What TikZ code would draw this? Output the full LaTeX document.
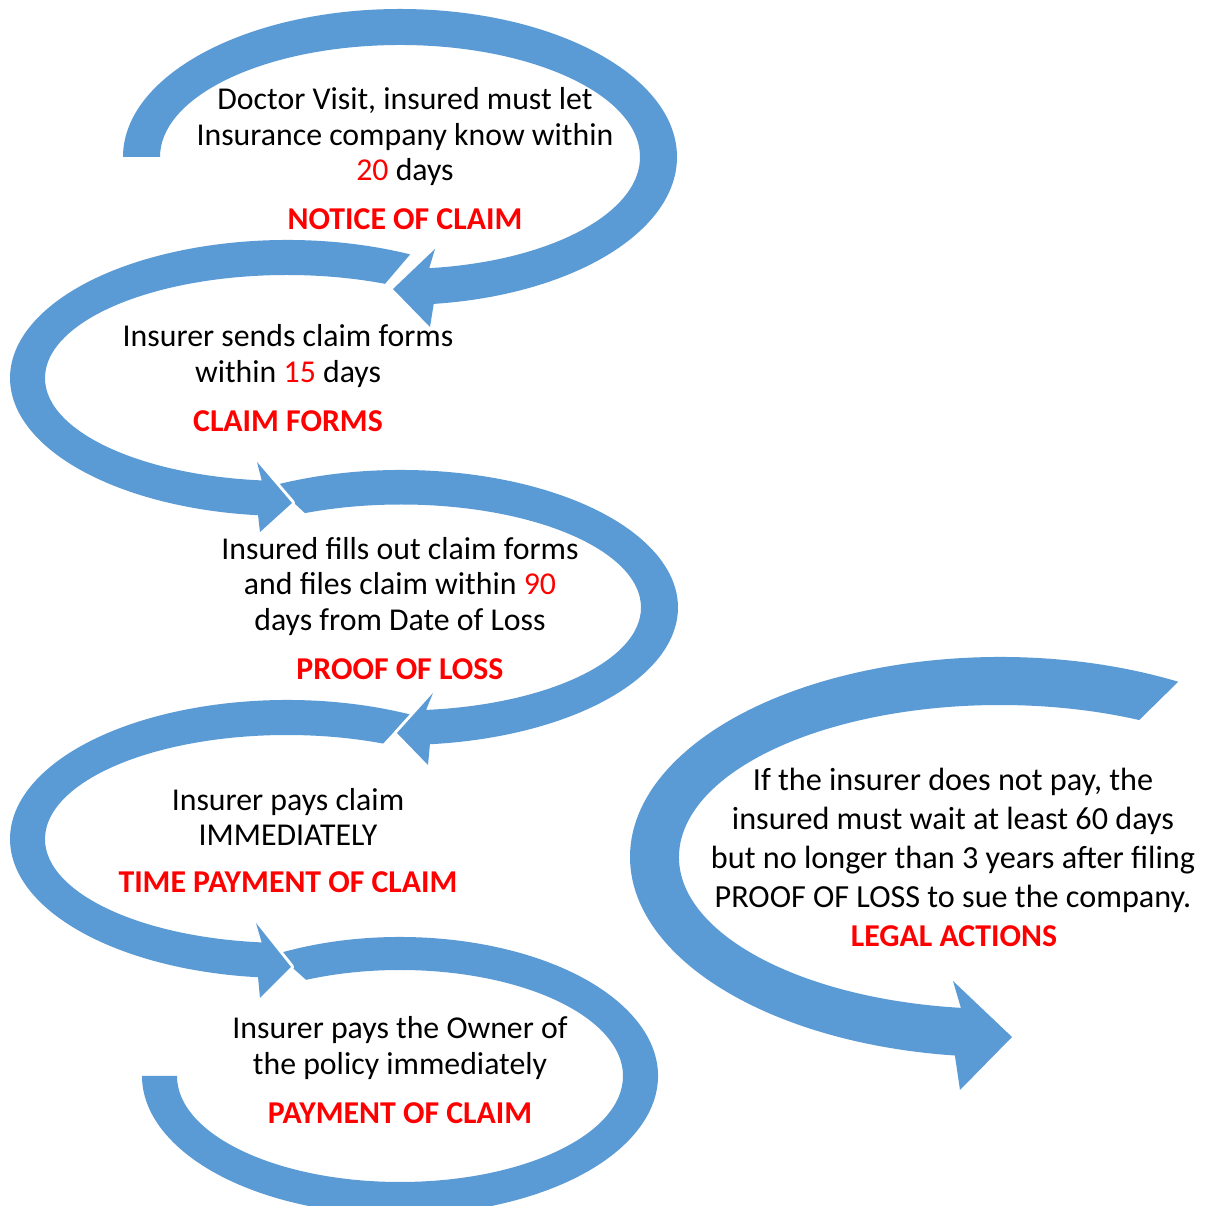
\documentclass[tikz,border=0pt]{standalone}
\usepackage{fontspec}
\setmainfont{Carlito}
\usetikzlibrary{calc,positioning}
\definecolor{swirlblue}{RGB}{91,155,213}
\definecolor{alertred}{RGB}{255,0,0}

\begin{document}
\begin{tikzpicture}[x=0.5pt, y=0.5pt,
      swirl/.style={fill=swirlblue,
                    preaction={draw=white, line width=3pt, line join=round}},
      body/.style={inner sep=0pt, align=center,
                   font=\fontsize{15.9}{17.75}\selectfont},
      legal/.style={inner sep=0pt, align=center,
                    font=\fontsize{16.1}{19.5}\selectfont},
      title/.style={inner sep=0pt, text=alertred,
                    font=\fontsize{15.9}{17.75}\selectfont\bfseries}
    ]
    \useasboundingbox (0,0) rectangle (1207,1206);
    \clip (0,0) rectangle (1207,1206);

    % ellipse centres of the six swirls
    \coordinate (c1) at (400,1049);
    \coordinate (c2) at (287,828);
    \coordinate (c3) at (401,598.5);
    \coordinate (c4) at (287,367);
    \coordinate (c5) at (400,130);
    \coordinate (c6) at (1000,349);

    % drawn from the bottom up, so each head lies over the next tail
    \fill[swirl] ($(c5)+(118.5:258 and 139)$)
        arc[start angle=118.5, end angle=-180, x radius=258, y radius=139]
      -- ($(c5)+(-180:223 and 106)$)
        arc[start angle=-180, end angle=114.9, x radius=223, y radius=106] -- cycle;

    \fill[swirl] ($(c4)+(63.6:277 and 139)$)
        arc[start angle=63.6, end angle=264, x radius=277, y radius=139]
      -- (260,208) -- (291,239) -- (256,283)
      -- ($(c4)+(264:242 and 104)$)
        arc[start angle=264, end angle=66.6, x radius=242, y radius=104] -- cycle;

    \fill[swirl] ($(c3)+(117.1:277 and 137.5)$)
        arc[start angle=117.1, end angle=-84, x radius=277, y radius=137.5]
      -- (428,441) -- (397,473) -- (433,513)
      -- ($(c3)+(-84:240 and 103)$)
        arc[start angle=-84, end angle=113.6, x radius=240, y radius=103] -- cycle;

    \fill[swirl] ($(c2)+(63.6:277 and 138)$)
        arc[start angle=63.6, end angle=264, x radius=277, y radius=138]
      -- (260,674) -- (292,703) -- (257,744)
      -- ($(c2)+(264:242 and 103)$)
        arc[start angle=264, end angle=66.1, x radius=242, y radius=103] -- cycle;

    \fill[swirl] ($(c1)+(180:277 and 148)$)
        arc[start angle=180, end angle=-83, x radius=277, y radius=148]
      -- (430,879) -- (393,917) -- (435,957)
      -- ($(c1)+(-83:240 and 112)$)
        arc[start angle=-83, end angle=180, x radius=240, y radius=112] -- cycle;

    \fill[swirl] ($(c6)+(61.2:370 and 200)$)
        arc[start angle=61.2, end angle=263, x radius=370, y radius=200]
      -- (960,116) -- (1012,169) -- (953,225)
      -- ($(c6)+(263:321 and 152)$)
        arc[start angle=263, end angle=64.3, x radius=321, y radius=152] -- cycle;

    % step texts
    \node[body] (notice) at (405,1069.2)
      {Doctor Visit, insured must let\\Insurance company know within\\
       \textcolor{alertred}{20} days};
    \node[body] (forms) at (288,850)
      {Insurer sends claim forms\\within \textcolor{alertred}{15} days};
    \node[body] (proof) at (400,619.5)
      {Insured fills out claim forms\\and files claim within \textcolor{alertred}{90}\\
       days from Date of Loss};
    \node[body] (timely) at (288,389)
      {Insurer pays claim\\IMMEDIATELY};
    \node[body] (payment) at (400,158)
      {Insurer pays the Owner of\\the policy immediately};
    \node[legal] (lawsuit) at (953,366)
      {If the insurer does not pay, the\\insured must wait at least 60 days\\
       but no longer than 3 years after filing\\PROOF OF LOSS to sue the company.};

    \foreach \n/\x/\y/\t in {t1/405/987/NOTICE OF CLAIM, t2/288/785/CLAIM FORMS,
        t3/400/537/PROOF OF LOSS, t4/288/324/TIME PAYMENT OF CLAIM,
        t5/400/93/PAYMENT OF CLAIM, t6/954/270/LEGAL ACTIONS}{
      \node[title] (\n) at (\x,\y) {\t};
    }
  \end{tikzpicture}
\end{document}
